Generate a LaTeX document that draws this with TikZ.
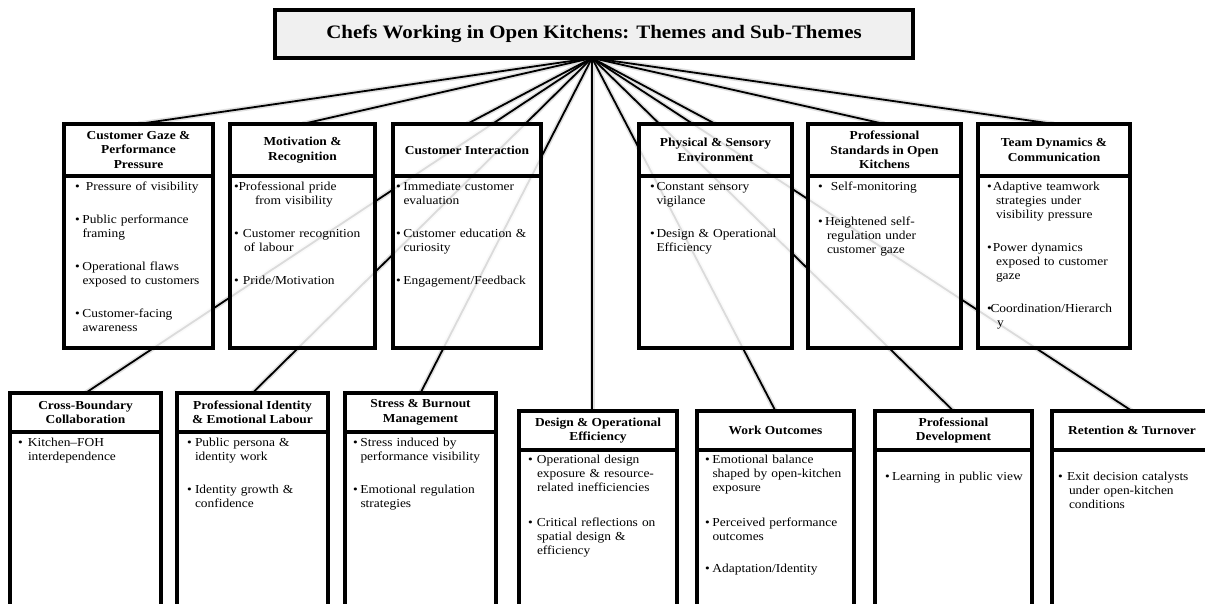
\documentclass[tikz,border=0pt]{standalone}
\usepackage{fontspec}
\setmainfont{Liberation Serif}[FakeStretch=1.1]
\usetikzlibrary{calc}
\pgfdeclarelayer{bg}
\pgfsetlayers{bg,main}
\newcommand{\bitem}[3]{{\parindent=0pt\hangindent=#2\hangafter=1\let\\\newline\noindent\makebox[#1][l]{\textbullet}#3\par}}
\newcommand{\itm}[1]{\bitem{7.5pt}{7.5pt}{#1}}
\newcommand{\gap}[1][19pt]{\par\vspace{#1}}
\newcommand{\thbox}[7]{%
  \node[hdrbox, minimum width={#3-#2}, minimum height={#5-#4}] (#1) at (#2,#4) {#7};
  \node[bodybox, minimum width={#3-#2}, minimum height={#6-#5}] (#1b) at (#2,#5) {};}
\tikzset{
  hdrbox/.style={rectangle, draw, line width=4pt, fill=white, fill opacity=0.86, text opacity=1, inner sep=2pt, outer sep=0pt, anchor=north west, align=center, font=\bfseries\fontsize{12.2}{14.5}\selectfont},
  bodybox/.style={rectangle, draw, line width=4pt, fill=white, fill opacity=0.86, inner sep=0pt, outer sep=0pt, anchor=north west},
  bodytext/.style={inner sep=0pt, outer sep=0pt, anchor=base west, text width=165pt, font=\fontsize{12.2}{14}\selectfont},
  titlebox/.style={rectangle, draw, line width=4pt, fill=black!6, inner sep=0pt, outer sep=0pt, font=\bfseries\fontsize{19}{22}\selectfont},
  conn/.style={line width=1.8pt, black},
  glow/.style={line width=5pt, black!12},
}
\begin{document}
\begin{tikzpicture}[x=1pt,y=-1pt]
\useasboundingbox (0,0) rectangle (1205,603);
% top row
\thbox{t1}{64}{213}{124}{176}{348}{Customer Gaze \&\\Performance\\Pressure}
\thbox{t2}{230}{375}{124}{176}{348}{Motivation \&\\Recognition}
\thbox{t3}{393}{541}{124}{176}{348}{Customer Interaction}
\thbox{t4}{639}{792}{124}{176}{348}{Physical \& Sensory\\Environment}
\thbox{t5}{808}{961}{124}{176}{348}{Professional\\Standards in Open\\Kitchens}
\thbox{t6}{978}{1130}{124}{176}{348}{Team Dynamics \&\\Communication}
% bottom row
\thbox{b1}{10}{161}{393}{432}{625}{Cross-Boundary\\Collaboration}
\thbox{b2}{177}{328}{393}{432}{625}{Professional Identity\\\& Emotional Labour}
\thbox{b3}{345}{496}{393}{432}{625}{Stress \& Burnout\\Management}
\thbox{b4}{519}{677}{411}{450}{625}{Design \& Operational\\Efficiency}
\thbox{b5}{697}{854}{411}{450}{625}{Work Outcomes}
\thbox{b6}{875}{1032}{411}{450}{625}{Professional\\Development}
\thbox{b7}{1052}{1212}{411}{450}{625}{Retention \& Turnover}
% body texts
\node[bodytext] (t1t) at (75,190) {\bitem{11pt}{11pt}{Pressure of visibility}\gap
  \itm{Public performance\\framing}\gap
  \itm{Operational flaws\\exposed to customers}\gap
  \itm{Customer-facing\\awareness}};
\node[bodytext] (t2t) at (234,190) {\bitem{4.5pt}{21pt}{Professional pride\\from visibility}\gap
  \bitem{9pt}{10pt}{Customer recognition\\of labour}\gap
  \bitem{9pt}{9pt}{Pride/Motivation}};
\node[bodytext] (t3t) at (396,190) {\itm{Immediate customer\\evaluation}\gap
  \itm{Customer education \&\\curiosity}\gap
  \itm{Engagement/Feedback}};
\node[bodytext] (t4t) at (650,190) {\bitem{6.5pt}{6.5pt}{Constant sensory\\vigilance}\gap
  \bitem{6.5pt}{6.5pt}{Design \& Operational\\Efficiency}};
\node[bodytext] (t5t) at (818,190) {\bitem{13pt}{13pt}{Self-monitoring}\gap[21pt]
  \bitem{7pt}{9pt}{Heightened self-\\regulation under\\customer gaze}};
\node[bodytext] (t6t) at (987,190) {\bitem{6pt}{9pt}{Adaptive teamwork\\strategies under\\visibility pressure}\gap
  \bitem{6pt}{9pt}{Power dynamics\\exposed to customer\\gaze}\gap
  \bitem{3.5pt}{10pt}{Coordination/Hierarch\\y}};
\node[bodytext] (b1t) at (18,446) {\bitem{10pt}{10pt}{Kitchen--FOH\\interdependence}};
\node[bodytext] (b2t) at (187,446) {\bitem{8pt}{8pt}{Public persona \&\\identity work}\gap
  \bitem{8pt}{8pt}{Identity growth \&\\confidence}};
\node[bodytext] (b3t) at (353,446) {\itm{Stress induced by\\performance visibility}\gap
  \itm{Emotional regulation\\strategies}};
\node[bodytext] (b4t) at (528,463) {\bitem{9pt}{9pt}{Operational design\\exposure \& resource-\\related inefficiencies}\gap[21pt]
  \bitem{9pt}{9pt}{Critical reflections on\\spatial design \&\\efficiency}};
\node[bodytext] (b5t) at (705,463) {\itm{Emotional balance\\shaped by open-kitchen\\exposure}\gap[21pt]
  \itm{Perceived performance\\outcomes}\gap[18pt]
  \itm{Adaptation/Identity}};
\node[bodytext] (b6t) at (885,480) {\bitem{7pt}{7pt}{Learning in public view}};
\node[bodytext] (b7t) at (1058,480) {\bitem{9pt}{11pt}{Exit decision catalysts\\under open-kitchen\\conditions}};
% title
\coordinate (hub) at (592,58);
\begin{pgfonlayer}{bg}
\foreach \n in {t1,t2,t3,t4,t5,t6,b1,b2,b3,b5,b6,b7} {\draw[glow] (hub) -- (\n.north);}
\draw[glow] (hub) -- (hub |- b4.north);
\foreach \n in {t1,t2,t3,t4,t5,t6,b1,b2,b3,b5,b6,b7} {\draw[conn] (hub) -- (\n.north);}
\draw[conn] (hub) -- (hub |- b4.north);
\end{pgfonlayer}
\node[titlebox, minimum width=638, minimum height=48] (title) at (594,34) {Chefs Working in Open Kitchens: Themes and Sub-Themes};
\end{tikzpicture}
\end{document}
